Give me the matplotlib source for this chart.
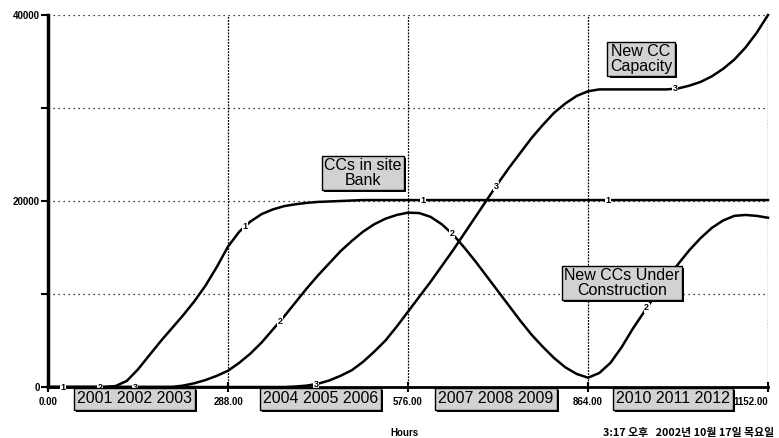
import matplotlib
matplotlib.use("Agg")
import matplotlib.pyplot as plt
import matplotlib.patheffects as pe
import matplotlib.transforms as mtransforms
import numpy as np

# values (every 18 hours)
hours = list(range(0, 1153, 18))

cc_bank = [0, 0, 0, 0, 0, 0, 100, 650, 1900, 3400, 4900, 6300, 7700, 9200,
           10900, 12900, 15100, 16700, 17800, 18600, 19100, 19450, 19650, 19800,
           19900, 19950, 20000, 20050, 20100] + [20100] * 36
cc_under_constr = [0] * 12 + [150, 400, 750, 1200, 1750, 2600, 3600, 4800, 6200,
                   7600, 9100, 10600, 12000, 13300, 14600, 15700, 16700, 17500,
                   18100, 18500, 18750, 18700, 18300, 17500, 16400, 15000, 13500,
                   11900, 10300, 8700, 7100, 5600, 4300, 3100, 2100, 1400, 1000,
                   1500, 2600, 4300, 6300, 8100, 9900, 11600, 13200, 14700, 16000,
                   17100, 17900, 18400, 18500, 18400, 18200]
new_cc_capacity = [0] * 22 + [50, 150, 350, 700, 1200, 1800, 2700, 3800, 5000,
                   6500, 8100, 9700, 11300, 13000, 14700, 16500, 18300, 20100,
                   21900, 23600, 25200, 26800, 28200, 29500, 30500, 31300, 31800,
                   32000, 32000, 32000, 32000, 32000, 32000, 32000, 32100, 32400,
                   32800, 33400, 34200, 35200, 36500, 38100, 40000]

series_names = ["CCs in site\nBank", "New CCs Under\nConstruction", "New CC\nCapacity"]
series_ids = ["1", "2", "3"]
label_hours = [[24, 315, 600, 896], [83, 371, 646, 958], [139, 429, 717, 1003]]

year_groups = ["2001 2002 2003", "2004 2005 2006", "2007 2008 2009", "2010 2011 2012"]
year_centers = [138, 436, 717, 1000]

x_ticks = [0, 288, 576, 864, 1152]
x_ticklabels = ["0.00", "288.00", "576.00", "864.00", "1152.00"]
y_ticks = [0, 10000, 20000, 30000, 40000]
y_ticklabels = ["0", "", "20000", "", "40000"]

plt.rcParams["font.family"] = ["Liberation Sans", "DejaVu Sans"]

fig = plt.figure(figsize=(7.79, 4.38), dpi=100)
ax = fig.add_axes([48 / 779, 1 - 387 / 438, 720 / 779, 372 / 438])

all_series = [cc_bank, cc_under_constr, new_cc_capacity]
for vals, sid, lh in zip(all_series, series_ids, label_hours):
    ax.plot(hours, vals, color="black", lw=1.8, clip_on=False, zorder=3,
            solid_joinstyle="round")
    for h in lh:
        ax.text(h, np.interp(h, hours, vals), sid, fontsize=6.5, fontweight="bold",
                ha="center", va="center", zorder=4,
                bbox=dict(boxstyle="square,pad=0.05", fc="white", ec="none"))

ax.set_xlim(0, 1152)
ax.set_ylim(0, 40000)
ax.set_xticks(x_ticks)
ax.set_xticklabels(x_ticklabels)
ax.set_yticks(y_ticks)
ax.set_yticklabels(y_ticklabels)
ax.tick_params(axis="x", direction="inout", length=7, width=1.5, labelsize=7, pad=4)
ax.tick_params(axis="y", direction="out", length=5, width=1.5, labelsize=7, pad=1)
for lbl in ax.get_xticklabels() + ax.get_yticklabels():
    lbl.set_fontweight("bold")
ax.get_xticklabels()[-1].set_horizontalalignment("right")

for y in y_ticks[1:]:
    ax.axhline(y, color="black", lw=0.9, ls=(0, (1, 3)), zorder=1)
for x in x_ticks[1:]:
    ax.axvline(x, color="black", lw=0.9, ls=(0, (1.5, 1)), zorder=1)

for s in ["top", "right"]:
    ax.spines[s].set_visible(False)
ax.spines["left"].set_linewidth(2.5)
ax.spines["bottom"].set_linewidth(2.0)

shadow = [pe.SimplePatchShadow(offset=(1.5, -1.5), shadow_rgbFace="black", alpha=1),
          pe.Normal()]

# curve name boxes
name_pos = [(363, 173), (622, 283), (641, 59)]
for name, (px, py) in zip(series_names, name_pos):
    t = fig.text(px / 779, 1 - py / 438, name, fontsize=11.5, ha="center",
                 va="center", linespacing=0.95,
                 bbox=dict(boxstyle="square,pad=0.15", fc="#d2d2d2", ec="black", lw=1))
    t.get_bbox_patch().set_path_effects(shadow)

# year boxes under the axis
trans = mtransforms.blended_transform_factory(ax.transData, ax.transAxes)
for grp, c in zip(year_groups, year_centers):
    t = ax.text(c, -0.032, grp, transform=trans, fontsize=11.5, ha="center",
                va="center", zorder=5,
                bbox=dict(boxstyle="square,pad=0.2", fc="#d2d2d2", ec="black", lw=1))
    t.get_bbox_patch().set_path_effects(shadow)

fig.text(404 / 779, 1 - 433 / 438, "Hours", fontsize=7, fontweight="bold",
         ha="center", va="center")
fig.text(603 / 779, 1 - 433 / 438, "3:17 오후   2002년 10월 17일 목요일", fontsize=7.8,
         fontweight="bold", ha="left", va="center",
         family=["Noto Sans CJK KR", "DejaVu Sans"])

fig.savefig("out.png", dpi=100)
